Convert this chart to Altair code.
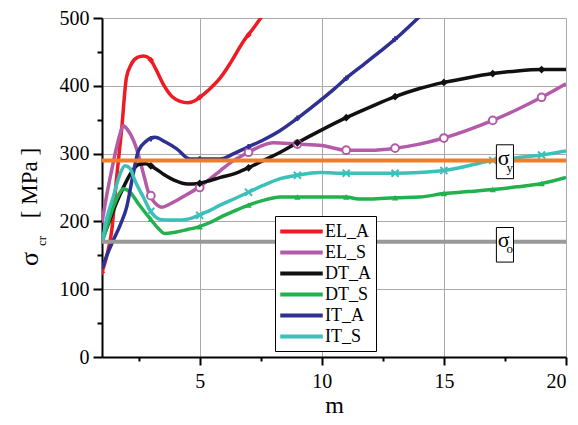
import altair as alt
import pandas as pd

series_names = ["EL_A", "EL_S", "DT_A", "DT_S", "IT_A", "IT_S"]
series_colors = ["#ED1C24", "#B35AA8", "#111111", "#22B14C", "#2E3192", "#3CC0BA"]

m_EL_A = [1.0, 1.2, 1.4, 1.6, 1.8, 2.0, 2.2, 2.45, 2.7, 2.95, 3.2, 3.5, 3.9, 4.2, 4.5, 4.8, 5.0, 5.4, 5.85, 6.3, 6.8, 7.2, 7.6]
s_EL_A = [125, 150, 187, 265, 334, 412, 432, 442, 444, 440, 425, 403, 383, 377, 375, 378, 383, 395, 412, 436, 466, 485, 505]

m_EL_S = [1.0, 1.2, 1.45, 1.7, 1.87, 2.05, 2.35, 2.7, 2.9, 3.15, 3.45, 3.8, 4.3, 4.95, 5.4, 5.85, 6.4, 7.0, 7.5, 8.0, 9.0, 10.0, 11.0, 12.0, 13.0, 14.0, 15.0, 16.0, 17.0, 18.0, 19.0, 20.0]
s_EL_S = [198, 240, 285, 324, 341, 335, 314, 270, 243, 228, 221, 226, 236, 250, 262, 275, 290, 302, 311, 316, 314, 312, 305, 305, 308, 314, 323, 335, 349, 365, 383, 403]

m_DT_A = [1.0, 1.3, 1.6, 1.9, 2.2, 2.5, 2.8, 3.1, 3.5, 4.0, 4.5, 4.95, 5.4, 5.85, 6.4, 6.93, 7.5, 8.3, 9.0, 10.0, 11.0, 12.0, 13.0, 14.0, 15.0, 16.0, 17.0, 18.0, 19.0, 20.0]
s_DT_A = [172, 200, 228, 252, 272, 284, 285, 280, 270, 260, 255, 256, 260, 265, 270, 278, 288, 302, 316, 335, 353, 369, 384, 396, 405, 412, 418, 422, 424, 424]

m_DT_S = [1.0, 1.2, 1.46, 1.74, 1.87, 2.15, 2.49, 2.97, 3.3, 3.58, 4.0, 4.5, 4.95, 5.4, 5.84, 6.4, 7.0, 7.6, 8.3, 9.0, 10.0, 11.0, 11.5, 12.0, 13.0, 14.0, 15.0, 16.0, 17.0, 18.0, 19.0, 20.0]
s_DT_S = [168, 192, 221, 243, 248, 243, 226, 204, 190, 182, 184, 188, 192, 198, 206, 215, 224, 231, 236, 236, 236, 236, 233, 233, 235, 236, 241, 244, 247, 251, 256, 265]

m_IT_A = [1.0, 1.2, 1.46, 1.75, 2.01, 2.25, 2.49, 2.8, 3.17, 3.6, 4.06, 4.6, 5.2, 5.84, 6.4, 6.93, 7.6, 8.3, 9.0, 9.93, 10.5, 11.03, 11.7, 12.4, 13.2, 14.0]
s_IT_A = [130, 150, 172, 195, 221, 265, 304, 318, 324, 317, 307, 292, 292, 292, 300, 309, 320, 334, 352, 378, 395, 412, 431, 451, 475, 502]

m_IT_S = [1.0, 1.2, 1.46, 1.74, 1.94, 2.15, 2.35, 2.69, 2.97, 3.38, 3.8, 4.2, 4.6, 4.95, 5.4, 5.84, 6.4, 7.0, 7.6, 8.3, 9.0, 9.93, 11.0, 12.0, 13.0, 14.0, 15.0, 16.0, 17.0, 18.0, 19.0, 20.0]
s_IT_S = [168, 205, 236, 270, 282, 278, 260, 236, 216, 203, 202, 202, 204, 209, 216, 224, 233, 243, 253, 263, 268, 272, 271, 271, 271, 272, 275, 282, 290, 294, 298, 304]

# sparse marker points on each curve
mk_EL_A_m = [1, 3, 5, 7]
mk_EL_A_s = [125, 438, 383, 475]
mk_EL_S_m = [3, 5, 7, 9, 11, 13, 15, 17, 19]
mk_EL_S_s = [238, 250, 302, 314, 305, 308, 323, 349, 383]
mk_DT_A_m = [3, 5, 7, 9, 11, 13, 15, 17, 19]
mk_DT_A_s = [282, 256, 279, 316, 353, 384, 405, 418, 424]
mk_DT_S_m = [3, 5, 7, 9, 11, 13, 15, 17, 19]
mk_DT_S_s = [203, 192, 224, 236, 236, 235, 241, 247, 256]
mk_IT_A_m = [3, 5, 7, 9, 11, 13]
mk_IT_A_s = [322, 292, 310, 352, 411, 469]
mk_IT_S_m = [3, 5, 7, 9, 11, 13, 15, 17, 19]
mk_IT_S_s = [215, 209, 243, 268, 271, 271, 275, 290, 298]

sigma_y = 290
sigma_o = 170

x_major = [5, 10, 15, 20]
x_minor = [2.5, 7.5, 12.5, 17.5]
y_major = [0, 100, 200, 300, 400, 500]
y_minor = [50, 150, 250, 350, 450]

FONT = "Liberation Serif, Times New Roman, serif"

line_sets = [(m_EL_A, s_EL_A), (m_EL_S, s_EL_S), (m_DT_A, s_DT_A),
             (m_DT_S, s_DT_S), (m_IT_A, s_IT_A), (m_IT_S, s_IT_S)]
rows = []
for name, (ms, ss) in zip(series_names, line_sets):
    for i, (a, b) in enumerate(zip(ms, ss)):
        rows.append({"series": name, "m": a, "s": b, "order": i})
df = pd.DataFrame(rows)

xs = alt.Scale(domain=[1, 20], nice=False, zero=False)
ys = alt.Scale(domain=[0, 500], nice=False)

x_axis = alt.Axis(values=x_major, title="m", titleFont=FONT, titleFontSize=24,
                  titleFontWeight="normal", titleColor="black", titlePadding=2,
                  labelFont=FONT, labelFontSize=20, labelColor="black", labelPadding=6,
                  tickSize=8, tickWidth=2, tickColor="black",
                  domainColor="black", domainWidth=2,
                  grid=True, gridColor="#aaaaaa", gridWidth=1, orient="bottom")
y_axis = alt.Axis(values=y_major, title=None,
                  labelFont=FONT, labelFontSize=20, labelColor="black", labelPadding=4,
                  tickSize=9, tickWidth=2, tickColor="black",
                  domainColor="black", domainWidth=2,
                  grid=True, gridColor="#aaaaaa", gridWidth=1, orient="left")

# legend: a wide stroke path drawn on a small symbol slot so rows stay compact
lines = alt.Chart(df).mark_line(strokeWidth=3.5, clip=True, interpolate="monotone").encode(
    x=alt.X("m:Q", scale=xs, axis=x_axis),
    y=alt.Y("s:Q", scale=ys, axis=y_axis),
    color=alt.Color("series:N", scale=alt.Scale(domain=series_names, range=series_colors),
                    legend=alt.Legend(title=None, orient="none", legendX=173, legendY=198,
                                      fillColor="white", strokeColor="black", padding=5,
                                      symbolType="M-2.5,0H2.5", symbolSize=289,
                                      symbolStrokeWidth=4, symbolOffset=11,
                                      labelFont=FONT, labelFontSize=18, labelColor="black",
                                      labelOffset=13, rowPadding=1)),
    detail="series:N",
    order="order:Q",
)

minor = alt.Chart(df).mark_point(opacity=0).encode(
    x=alt.X("m:Q", scale=xs, axis=alt.Axis(values=x_minor, labels=False, title=None, grid=False,
                                            domain=False, tickSize=4, tickWidth=2,
                                            tickColor="black", orient="bottom")),
    y=alt.Y("s:Q", scale=ys, axis=alt.Axis(values=y_minor, labels=False, title=None, grid=False,
                                            domain=False, tickSize=5, tickWidth=2,
                                            tickColor="black", orient="left")),
)

marker_specs = [
    (mk_EL_A_m, mk_EL_A_s, series_colors[0], "diamond", True, 40),
    (mk_EL_S_m, mk_EL_S_s, series_colors[1], "circle", False, 60),
    (mk_DT_A_m, mk_DT_A_s, series_colors[2], "diamond", True, 60),
    (mk_DT_S_m, mk_DT_S_s, series_colors[3], "triangle-up", True, 40),
    (mk_IT_A_m, mk_IT_A_s, series_colors[4], "cross", True, 30),
    (mk_IT_S_m, mk_IT_S_s, series_colors[5], "M-1,-1L1,1M-1,1L1,-1", False, 50),
]
marker_layers = []
for ms, ss, col, shp, filled, size in marker_specs:
    mdf = pd.DataFrame({"m": ms, "s": ss})
    if filled:
        mk = alt.Chart(mdf).mark_point(shape=shp, filled=True, color=col, size=size, opacity=1, clip=True)
    else:
        mk = alt.Chart(mdf).mark_point(shape=shp, filled=False, fill="white", fillOpacity=1,
                                       stroke=col, strokeWidth=2, size=size, opacity=1, clip=True)
    marker_layers.append(mk.encode(x=alt.X("m:Q", scale=xs, axis=None),
                                   y=alt.Y("s:Q", scale=ys, axis=None)))

ref = pd.DataFrame({"s": [sigma_o, sigma_y], "c": ["#999999", "#F37D22"]})
ref_lines = alt.Chart(ref).mark_rule(strokeWidth=4).encode(
    y=alt.Y("s:Q", scale=ys, axis=None), color=alt.Color("c:N", scale=None, legend=None))

box_df = pd.DataFrame({"m1": [17.15, 17.15], "m2": [17.85, 17.85],
                       "lo": [sigma_y - 27, sigma_o - 30], "hi": [sigma_y + 23, sigma_o + 21],
                       "sm": [17.45, 17.45], "ss": [sigma_y + 3, sigma_o + 3],
                       "subm": [17.7, 17.7], "subs": [sigma_y - 11, sigma_o - 11],
                       "sub": ["y", "o"]})
boxes = alt.Chart(box_df).mark_rect(fill="white", stroke="black", strokeWidth=1).encode(
    x=alt.X("m1:Q", scale=xs, axis=None), x2="m2:Q",
    y=alt.Y("lo:Q", scale=ys, axis=None), y2="hi:Q")
sig_txt = alt.Chart(box_df).mark_text(text="σ", font=FONT, fontSize=22, color="black",
                                      baseline="middle", align="center").encode(
    x=alt.X("sm:Q", scale=xs, axis=None), y=alt.Y("ss:Q", scale=ys, axis=None))
sub_txt = alt.Chart(box_df).mark_text(font=FONT, fontSize=13, color="black",
                                      baseline="middle", align="center").encode(
    x=alt.X("subm:Q", scale=xs, axis=None), y=alt.Y("subs:Q", scale=ys, axis=None),
    text="sub:N")

one = pd.DataFrame({"k": [0]})
ytitle1 = alt.Chart(one).mark_text(text="σ", font=FONT, fontSize=26, angle=270, color="black",
                                   baseline="middle", align="center").encode(
    x=alt.value(-72), y=alt.value(241))
ytitle2 = alt.Chart(one).mark_text(text="cr", font=FONT, fontSize=13, angle=270, color="black",
                                   baseline="middle", align="center").encode(
    x=alt.value(-60), y=alt.value(223))
ytitle3 = alt.Chart(one).mark_text(text="[ MPa ]", font=FONT, fontSize=23, angle=270, color="black",
                                   baseline="middle", align="center").encode(
    x=alt.value(-72), y=alt.value(165))

chart = alt.layer(
    lines, minor, *marker_layers, ref_lines, boxes, sig_txt, sub_txt, ytitle1, ytitle2, ytitle3
).resolve_axis(x="independent", y="independent").properties(
    width=464, height=339,
    autosize=alt.AutoSizeParams(type="none"),
    padding={"left": 94, "top": 10, "right": 4, "bottom": 62},
).configure_view(stroke="black", strokeWidth=2).configure(background="white")

chart.save("out.html", embed_options={"renderer": "svg", "actions": False})
